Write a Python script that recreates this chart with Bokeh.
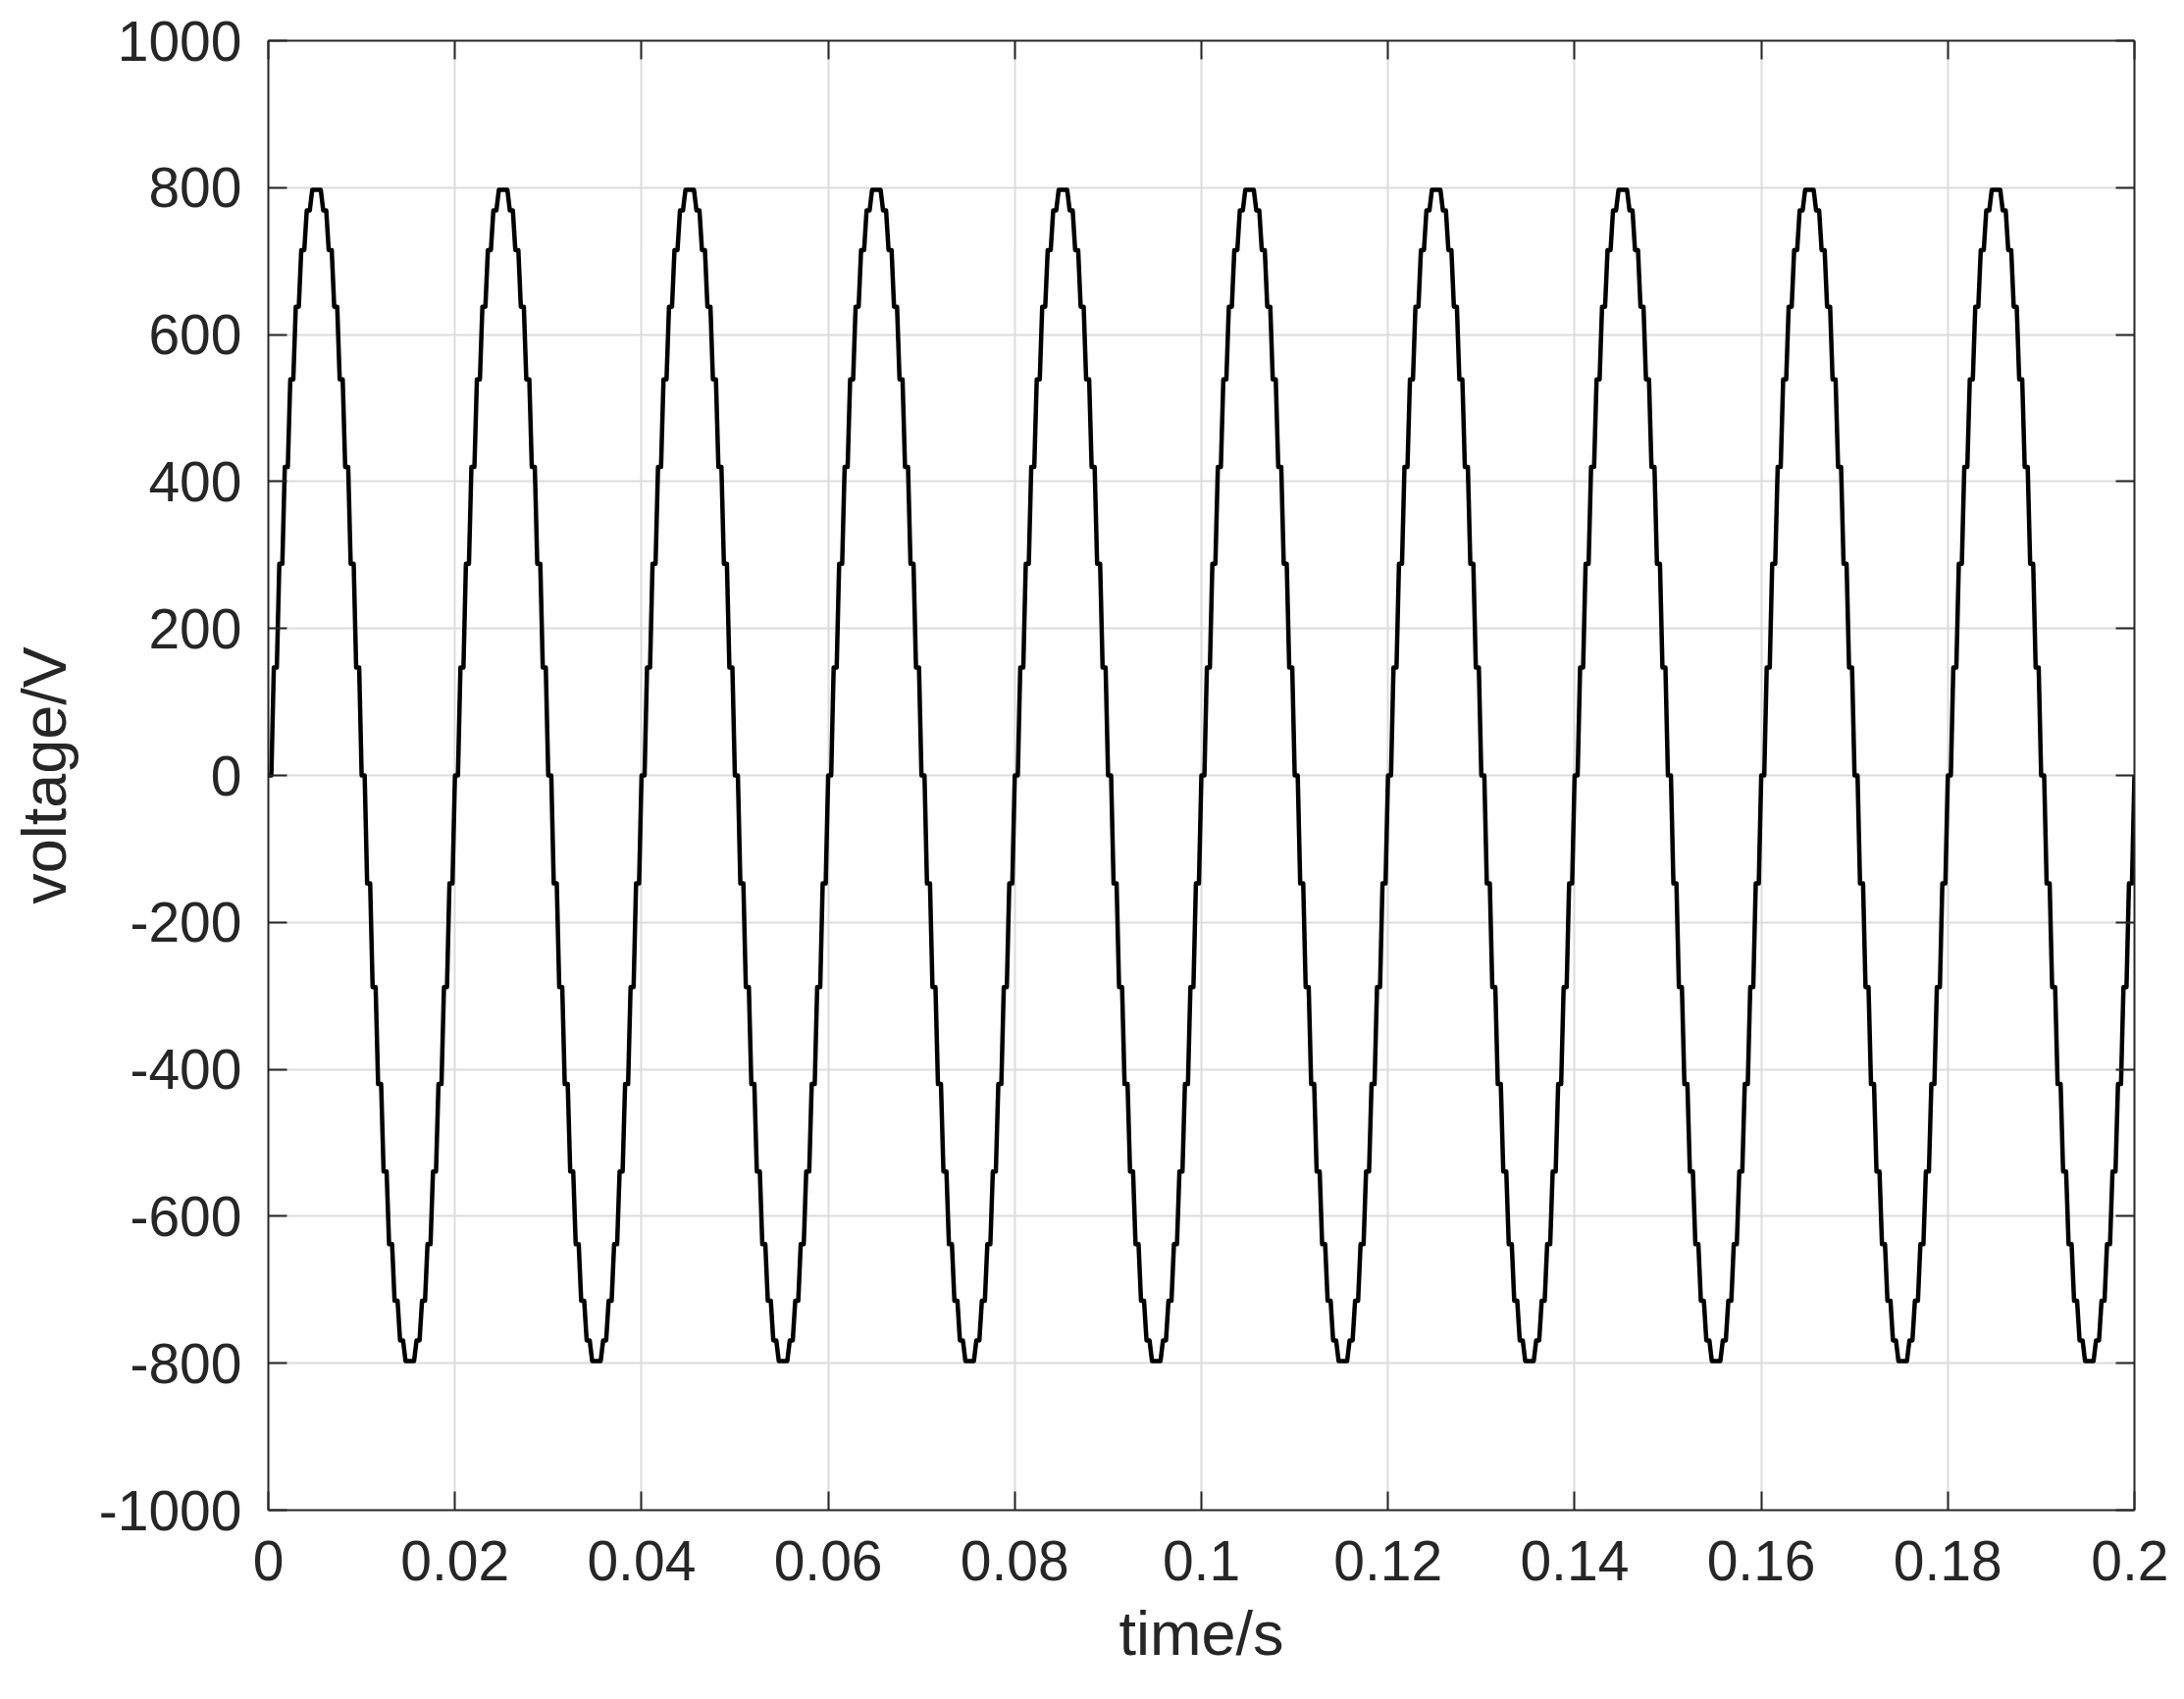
from bokeh.plotting import figure
from bokeh.models import Range1d, FixedTicker, LinearAxis, CustomJSTickFormatter, ColumnDataSource
from bokeh.embed import file_html
from bokeh.resources import INLINE

# ---- data ----
period = 0.02            # s, one cycle
n_periods = 10
# held voltage levels of one cycle (V), read step by step
step_levels = [0, 147, 288, 420, 539, 638, 715, 769, 797, 797, 769, 715, 638, 539, 420, 288, 147,
               0, -147, -288, -420, -539, -638, -715, -769, -797, -797, -769, -715, -638, -539, -420, -288, -147]
hold_fraction = 0.55     # part of each step that is flat before the edge

x_ticks = [0, 0.02, 0.04, 0.06, 0.08, 0.1, 0.12, 0.14, 0.16, 0.18, 0.2]
x_tick_labels = ["0", "0.02", "0.04", "0.06", "0.08", "0.1", "0.12", "0.14", "0.16", "0.18", "0.2"]
y_ticks = [-1000, -800, -600, -400, -200, 0, 200, 400, 600, 800, 1000]
y_tick_labels = ["-1000", "-800", "-600", "-400", "-200", "0", "200", "400", "600", "800", "1000"]

# ---- build the staircase trace ----
dt = period / len(step_levels)
t, v = [], []
for k in range(n_periods * len(step_levels)):
    lv = step_levels[k % len(step_levels)]
    t0 = k * dt
    t += [t0, t0 + hold_fraction * dt]
    v += [lv, lv]
t.append(n_periods * period)
v.append(step_levels[0])
src = ColumnDataSource(data=dict(t=t, v=v))

AX = "#262626"
FONT = "Liberation Sans"

p = figure(width=2210, height=1716,
           x_range=Range1d(0, 0.2), y_range=Range1d(-1000, 1000),
           output_backend="svg", toolbar_location=None, tools="",
           min_border_left=273, min_border_right=35, min_border_top=41, min_border_bottom=177,
           x_axis_label="time/s", y_axis_label="voltage/V")
p.outline_line_color = None
p.background_fill_color = "white"
p.border_fill_color = "white"

xt = FixedTicker(ticks=x_ticks)
yt = FixedTicker(ticks=y_ticks)

for ax, tk, labs, st in ((p.xaxis[0], xt, dict(zip(x_ticks, x_tick_labels)), 31),
                         (p.yaxis[0], yt, dict(zip(y_ticks, y_tick_labels)), 27)):
    ax.ticker = tk
    ax.major_label_overrides = labs
    ax.major_tick_in = 19
    ax.major_tick_out = 0
    ax.minor_tick_line_color = None
    ax.major_tick_line_color = AX
    ax.major_tick_line_width = 2
    ax.axis_line_color = AX
    ax.axis_line_width = 2
    ax.major_label_text_font = FONT
    ax.major_label_text_font_size = "57px"
    ax.major_label_text_color = AX
    ax.major_label_standoff = st
    ax.axis_label_text_font = FONT
    ax.axis_label_text_font_size = "63px"
    ax.axis_label_text_font_style = "normal"
    ax.axis_label_text_color = AX

p.xaxis[0].axis_label_standoff = 16
p.yaxis[0].axis_label_standoff = 18

for side, tk in (("above", xt), ("right", yt)):
    a = LinearAxis(ticker=tk, formatter=CustomJSTickFormatter(code="return ''"),
                   major_tick_in=19, major_tick_out=0, minor_tick_line_color=None,
                   major_tick_line_color=AX, major_tick_line_width=2,
                   axis_line_color=AX, axis_line_width=2,
                   major_label_text_font_size="1px", major_label_standoff=0)
    p.add_layout(a, side)

p.xgrid.ticker = xt
p.ygrid.ticker = yt
p.xgrid.grid_line_color = "#dcdcdc"
p.ygrid.grid_line_color = "#dcdcdc"
p.xgrid.grid_line_width = 2
p.ygrid.grid_line_width = 2

p.line("t", "v", source=src, line_color="black", line_width=4.5, line_join="round")

open("out.html", "w").write(file_html(p, INLINE))
